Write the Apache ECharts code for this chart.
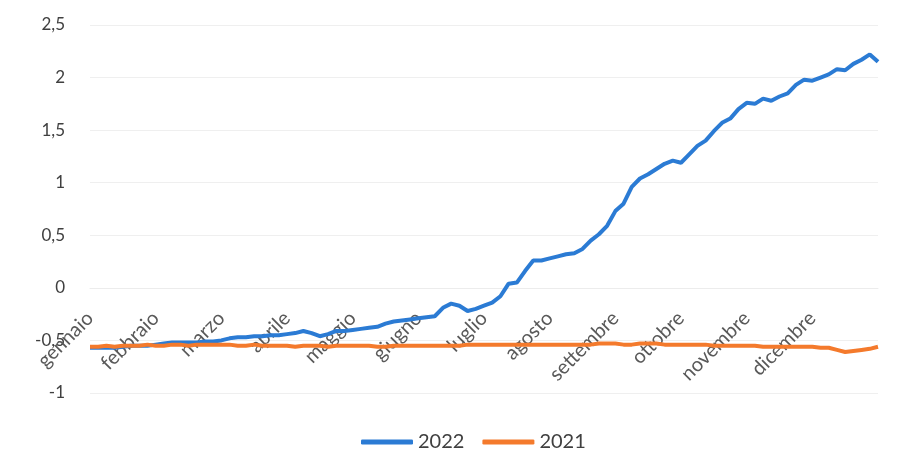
<!DOCTYPE html>
<html>
<head>
<meta charset="utf-8">
<script src="https://cdn.jsdelivr.net/npm/echarts@6/dist/echarts.min.js"></script>
<style>
  html, body { margin: 0; padding: 0; background: #fff; }
  #chart { width: 909px; height: 450px; }
</style>
</head>
<body>
<div id="chart"></div>
<script>
// mesi (un'etichetta ogni 8 punti)
var mesi = ['gennaio', 'febbraio', 'marzo', 'aprile', 'maggio', 'giugno',
            'luglio', 'agosto', 'settembre', 'ottobre', 'novembre', 'dicembre'];
var puntiPerMese = 8;

// serie, 97 punti da inizio gennaio a fine dicembre
var serie2022 = [
  -0.57, -0.57, -0.57, -0.57, -0.56, -0.55, -0.55, -0.55,
  -0.54, -0.53, -0.52, -0.52, -0.52, -0.52, -0.51, -0.51,
  -0.50, -0.48, -0.47, -0.47, -0.46, -0.46, -0.45, -0.45,
  -0.44, -0.43, -0.41, -0.43, -0.46, -0.44, -0.41, -0.41,
  -0.40, -0.39, -0.38, -0.37, -0.34, -0.32, -0.31, -0.30,
  -0.29, -0.28, -0.27, -0.19, -0.15, -0.17, -0.22, -0.20,
  -0.17, -0.14, -0.08, 0.04, 0.05, 0.16, 0.26, 0.26,
  0.28, 0.30, 0.32, 0.33, 0.37, 0.45, 0.51, 0.59,
  0.73, 0.80, 0.96, 1.04, 1.08, 1.13, 1.18, 1.21,
  1.19, 1.27, 1.35, 1.40, 1.49, 1.57, 1.61, 1.70,
  1.76, 1.75, 1.80, 1.78, 1.82, 1.85, 1.93, 1.98,
  1.97, 2.00, 2.03, 2.08, 2.07, 2.13, 2.17, 2.22,
  2.15
];
var serie2021 = [
  -0.56, -0.56, -0.55, -0.56, -0.55, -0.55, -0.55, -0.54,
  -0.55, -0.55, -0.54, -0.54, -0.55, -0.54, -0.54, -0.54,
  -0.54, -0.54, -0.55, -0.55, -0.54, -0.55, -0.55, -0.55,
  -0.55, -0.56, -0.55, -0.55, -0.55, -0.56, -0.55, -0.55,
  -0.55, -0.55, -0.55, -0.56, -0.56, -0.55, -0.55, -0.55,
  -0.55, -0.55, -0.55, -0.55, -0.55, -0.55, -0.54, -0.54,
  -0.54, -0.54, -0.54, -0.54, -0.54, -0.54, -0.54, -0.54,
  -0.54, -0.54, -0.54, -0.54, -0.54, -0.54, -0.53, -0.53,
  -0.53, -0.54, -0.54, -0.53, -0.53, -0.53, -0.54, -0.54,
  -0.54, -0.54, -0.54, -0.54, -0.55, -0.55, -0.55, -0.55,
  -0.55, -0.55, -0.56, -0.56, -0.56, -0.56, -0.56, -0.56,
  -0.56, -0.57, -0.57, -0.59, -0.61, -0.60, -0.59, -0.58,
  -0.56
];
var nomi = ['2022', '2021'];
var colori = ['#2b7bd4', '#f47a2c'];

var chart = echarts.init(document.getElementById('chart'));

// coppie [indice, valore]
function coppie(arr) {
  return arr.map(function (v, i) { return [i, v]; });
}

var font = 'Lato, "Open Sans", sans-serif';

var option = {
  animation: false,
  backgroundColor: '#fff',
  grid: { left: 90, right: 31, top: 25, bottom: 57, outerBoundsMode: 'none', containLabel: false },
  legend: {
    top: 427,
    left: 356,
    icon: 'roundRect',
    itemWidth: 52,
    itemHeight: 5,
    itemGap: 18,
    textStyle: { fontFamily: font, fontSize: 20, color: '#404040' },
    data: nomi
  },
  xAxis: {
    type: 'value',
    min: 0,
    max: mesi.length * puntiPerMese,
    interval: puntiPerMese,
    position: 'bottom',
    offset: -105,   // asse orizzontale sullo zero
    axisLine: { onZero: false, lineStyle: { color: '#ececec' } },
    axisTick: { show: false },
    splitLine: { show: false },
    axisLabel: {
      rotate: 45,
      margin: 27,
      fontFamily: font,
      fontSize: 20,
      color: '#595959',
      showMaxLabel: false,
      formatter: function (v) {
        var k = Math.round(v / puntiPerMese);
        return k < mesi.length ? mesi[k] : '';
      }
    }
  },
  yAxis: {
    type: 'value',
    min: -1,
    max: 2.5,
    interval: 0.5,
    axisLine: { show: false, onZero: false },
    axisTick: { show: false },
    splitLine: { lineStyle: { color: '#efefef', width: 1 } },
    axisLabel: {
      margin: 25,
      fontFamily: font,
      fontSize: 17,
      color: '#404040',
      formatter: function (v) { return String(v).replace('.', ','); }
    }
  },
  series: [
    {
      name: nomi[0],
      type: 'line',
      data: coppie(serie2022),
      showSymbol: false,
      lineStyle: { width: 4, color: colori[0] },
      itemStyle: { color: colori[0] },
      z: 3
    },
    {
      name: nomi[1],
      type: 'line',
      data: coppie(serie2021),
      showSymbol: false,
      lineStyle: { width: 4, color: colori[1] },
      itemStyle: { color: colori[1] },
      z: 4
    }
  ]
};

chart.setOption(option);
</script>
</body>
</html>
